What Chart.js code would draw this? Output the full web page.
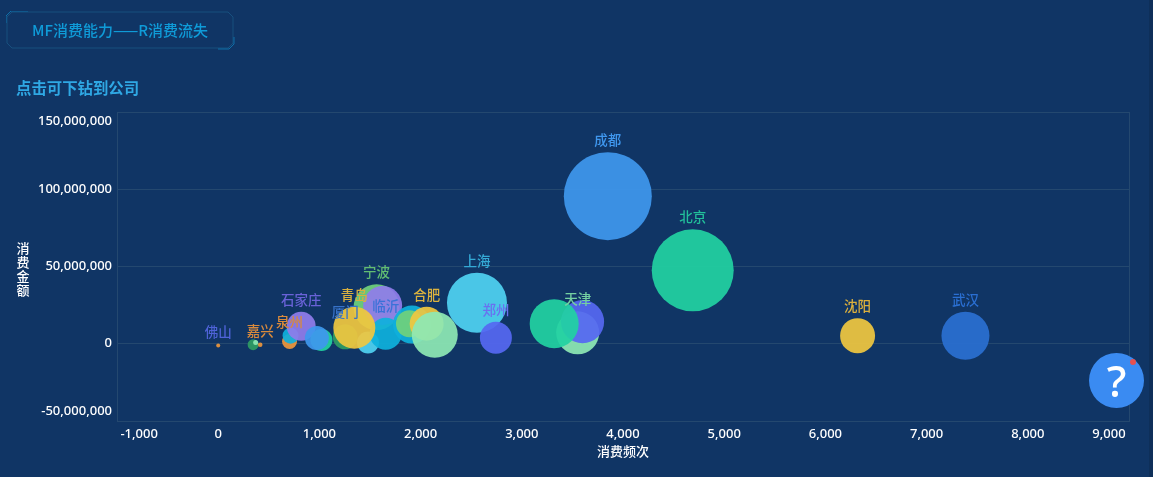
<!DOCTYPE html>
<html>
<head>
<meta charset="utf-8">
<title>MF消费能力——R消费流失</title>
<script src="https://cdn.jsdelivr.net/npm/chart.js@4/dist/chart.umd.min.js"></script>
<style>
  html,body{margin:0;padding:0;background:#103565;overflow:hidden}
  body{width:1153px;height:477px;position:relative;font-family:"Noto Sans CJK SC","Noto Sans",sans-serif}
  #chart{position:absolute;left:0;top:0}
  #titleBox{position:absolute;left:6px;top:11px}
  #title{position:absolute;left:7px;top:12px;width:226px;height:36px;line-height:36px;text-align:center;color:#0f9bd8;font-size:15px;font-weight:500}
  #hint{position:absolute;left:16px;top:78px;line-height:18px;color:#2fa8e4;font-size:15.4px;font-weight:700}
  #yTitle{position:absolute;left:16px;top:241px;width:14px;color:#fff;font-size:13px;line-height:14px;font-weight:500;text-align:center}
  #help{position:absolute;left:1089px;top:353px;width:55px;height:55px;border-radius:50%;background:#3a8bf2;color:#fff;font:500 44px/55px "Noto Sans",sans-serif;text-align:center}
  #help i{position:absolute;left:41px;top:6px;width:6px;height:6px;border-radius:50%;background:#e5504f}
  #edge{position:absolute;left:1149px;top:0;width:4px;height:477px;background:#0e2f59}
</style>
</head>
<body>
<canvas id="chart" width="1153" height="477"></canvas>
<svg id="titleBox" width="230" height="40" fill="none">
  <path d="M1 6 L6 1 H222 L227 6 V32 L222 37 H6 L1 32 Z" stroke="#17507f" stroke-width="1"/>
  <path d="M0 12 V5 L5 0 H22" stroke="#0f6fa8" stroke-width="1"/>
  <path d="M228 26 V33 L223 38 H212" stroke="#0f6fa8" stroke-width="1"/>
</svg>
<div id="title">MF消费能力——R消费流失</div>
<div id="hint">点击可下钻到公司</div>
<div id="yTitle">消费金额</div>
<div id="edge"></div>
<div id="help">?<i></i></div>
<script>
// one entry per bubble, in draw order; '' means the label was hidden in the original
const cities = ['佛山','','','嘉兴','泉州','','石家庄','','','厦门','','宁波','','临沂','','','合肥','','成都','北京','上海','郑州','天津','','','沈阳','武汉','青岛'];
const freq = [0,345,370,415,705,715,820,1020,975,1255,1480,1565,1625,1655,1915,1890,2060,2140,3850,4689,2557,2744,3552,3600,3320,6318,7384,1345];
const amount = [-1100000,-600000,800000,-600000,1500000,5200000,11300000,2400000,3700000,4500000,800000,23600000,24700000,6500000,12400000,13000000,13000000,5800000,95500000,47500000,26500000,3900000,7100000,14300000,13000000,5200000,5200000,10400000];
const sizeValue = [20,55,25,23,75,80,145,110,120,125,110,230,195,160,190,135,170,230,440,410,300,160,215,216,245,175,240,210];

const XTICK_MIN = -1000, XTICK_MAX = 9000, YTICK_MIN = -50000000, YTICK_MAX = 150000000;
const SIZE_SCALE = 0.1;

const ORANGE='#ee963c', GREEN='#2f9c63', LIME='#6fd27c', CYAN='#0eb0dc', SKY='#4fd2f2', BLUE='#3f97ee', VIOLET='#907cec', YELLOW='#f0c740', MINT='#8ee8b4', INDIGO='#5568f2', TEAL='#22d2a2', ROYAL='#2a6fd2';
const colors = [ORANGE,GREEN,MINT,ORANGE,ORANGE,CYAN,VIOLET,TEAL,BLUE,GREEN,SKY,LIME,VIOLET,CYAN,CYAN,LIME,YELLOW,MINT,BLUE,TEAL,SKY,INDIGO,MINT,INDIGO,TEAL,YELLOW,ROYAL,YELLOW];
const labelColors = ['#4f63d8','','','#d98a3c','#d98a3c','','#6a62d8','','','#3772c8','','#62bd72','','#3a72d8','','','#dcb33e','','#3f97ee','#22c09a','#35aad6','#6a70f0','#74d0a2','','','#dcb03c','#2a6fd2','#d8b040'];

const bubbles = freq.map((x,i)=>({x, y:amount[i], r:sizeValue[i]*SIZE_SCALE}));
const money = n => Number(n).toLocaleString('en-US');

// frame around the plot and the city names above the bubbles
const frame = {
  id:'frame',
  beforeDatasetsDraw(c){
    const a = c.chartArea, ctx = c.ctx;
    ctx.save();
    ctx.strokeStyle = '#24486f';
    ctx.lineWidth = 1;
    ctx.strokeRect(a.left+.5, a.top+.5, a.right-a.left, a.bottom-a.top);
    ctx.restore();
  }
};
const cityLabels = {
  id:'cityLabels',
  afterDatasetsDraw(c){
    const ctx = c.ctx, pts = c.getDatasetMeta(0).data;
    ctx.save();
    ctx.font = '500 13.5px "Noto Sans CJK SC"';
    ctx.textAlign = 'center';
    ctx.textBaseline = 'middle';
    pts.forEach((p,i)=>{
      if(!cities[i]) return;
      ctx.fillStyle = labelColors[i];
      ctx.fillText(cities[i], p.x, p.y - bubbles[i].r - 12);
    });
    ctx.restore();
  }
};

new Chart(document.getElementById('chart'), {
  type:'bubble',
  data:{datasets:[{data:bubbles, backgroundColor:colors.map(c=>c+'ec'), borderWidth:0, hoverBorderWidth:0}]},
  plugins:[frame, cityLabels],
  options:{
    responsive:false,
    animation:false,
    layout:{autoPadding:false, padding:{top:112, right:24, left:0, bottom:18}},
    plugins:{legend:{display:false}, tooltip:{enabled:true}},
    scales:{
      x:{
        type:'linear', min:XTICK_MIN, max:XTICK_MAX,
        grid:{display:false, drawTicks:false},
        border:{display:false},
        title:{display:true, text:'消费频次', color:'#fff', font:{size:13, weight:'500', family:'"Noto Sans CJK SC"'}, padding:{top:0,bottom:0}},
        ticks:{
          stepSize:1000, color:'#fff', align:'inner', padding:5, maxRotation:0, autoSkip:false,
          font:{size:13, weight:'500', family:'"Noto Sans"'},
          callback:v => v===XTICK_MIN ? '\u00A0'+money(v) : v===XTICK_MAX ? money(v)+'\u00A0' : money(v)
        },
        afterFit(s){ s.height = 38; s.paddingLeft = 0; s.paddingRight = 0; }
      },
      y:{
        type:'linear', min:YTICK_MIN, max:YTICK_MAX,
        grid:{color:'#24486f', drawTicks:false},
        border:{display:false},
        ticks:{
          stepSize:50000000, color:'#fff', padding:5,
          font:{size:13, weight:'500', family:'"Noto Sans"', lineHeight:1.5},
          // blank line nudges the two end labels inside the plot
          callback:v => v===YTICK_MAX ? ['',money(v)] : v===YTICK_MIN ? [money(v),''] : money(v)
        },
        afterFit(s){ s.width = 117; s.paddingTop = 0; s.paddingBottom = 0; }
      }
    }
  }
});
</script>
</body>
</html>
